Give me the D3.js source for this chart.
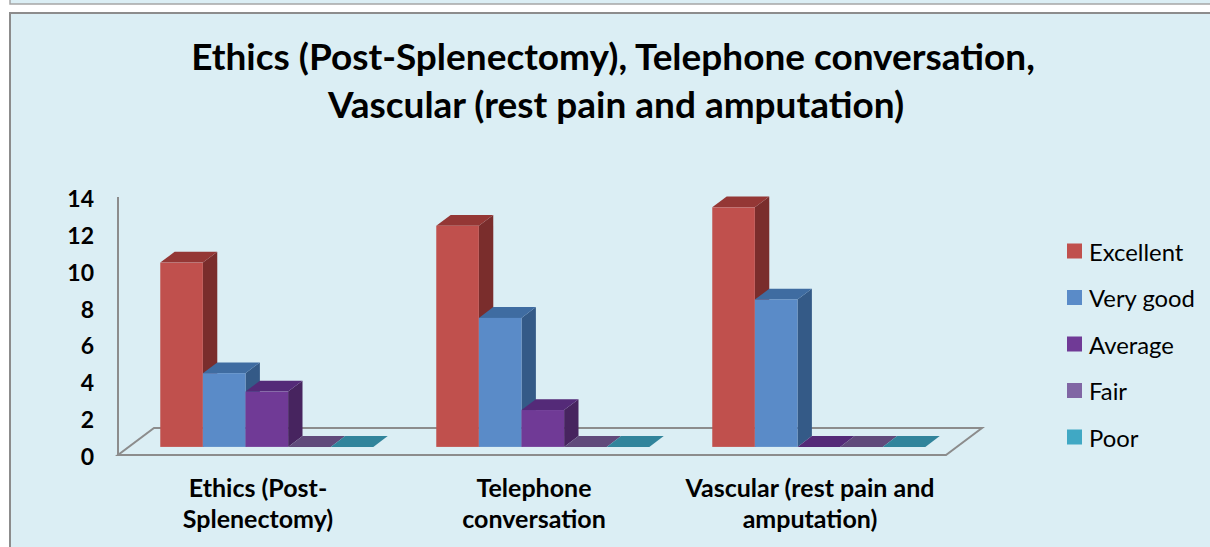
<!DOCTYPE html>
<html>
<head>
<meta charset="utf-8">
<script src="https://cdn.jsdelivr.net/npm/d3@7"></script>
<style>
  body { margin: 0; background: #fff; }
  svg { display: block; }
  text { font-family: Lato, "Open Sans", sans-serif; fill: #000; }
</style>
</head>
<body>
<div id="chart"></div>
<script>
var categories = ["Ethics (Post-Splenectomy)", "Telephone conversation", "Vascular (rest pain and amputation)"];
var categoryLines = [["Ethics (Post-", "Splenectomy)"], ["Telephone", "conversation"], ["Vascular (rest pain and", "amputation)"]];
var seriesNames = ["Excellent", "Very good", "Average", "Fair", "Poor"];
var excellent = [10, 12, 13];
var veryGood = [4, 7, 8];
var average = [3, 2, 0];
var fair = [0, 0, 0];
var poor = [0, 0, 0];
var yTicks = [0, 2, 4, 6, 8, 10, 12, 14];
var titleLines = ["Ethics (Post-Splenectomy), Telephone conversation,", "Vascular (rest pain and amputation)"];

var seriesValues = [excellent, veryGood, average, fair, poor];
// front, top, side shades
var colors = [
  { front: "#C0504D", top: "#943735", side: "#7A2D2C", legend: "#C0504D" },
  { front: "#5A8BC8", top: "#3F6CA1", side: "#345A87", legend: "#5A8BC8" },
  { front: "#703A96", top: "#542A78", side: "#47245F", legend: "#703A96" },
  { front: "#8064A2", top: "#604A7B", side: "#4F3D66", legend: "#8066A4" },
  { front: "#4BACC6", top: "#31849B", side: "#276A7D", legend: "#40A8C4" }
];

var W = 1210, H = 547;
var svg = d3.select("#chart").append("svg").attr("width", W).attr("height", H);

// previous chart edge and chart area box
svg.append("rect").attr("x", 10).attr("y", -60).attr("width", 1300).attr("height", 64)
  .attr("fill", "#DBEEF4").attr("stroke", "#a6a6a6").attr("stroke-width", 1.5);
svg.append("rect").attr("x", 10).attr("y", 13).attr("width", 1300).attr("height", 600)
  .attr("fill", "#DBEEF4").attr("stroke", "#8c8c8c").attr("stroke-width", 2);

function fit(sel, target) {
  var w = sel.node().getComputedTextLength();
  var s = parseFloat(sel.attr("font-size"));
  return s * target / w;
}

// title
var t1 = svg.append("text").attr("x", 613).attr("y", 70).attr("text-anchor", "middle")
  .attr("font-weight", "bold").attr("font-size", 36).text(titleLines[0]);
var tSize = fit(t1, 844);
t1.attr("font-size", tSize);
svg.append("text").attr("x", 616).attr("y", 118).attr("text-anchor", "middle")
  .attr("font-weight", "bold").attr("font-size", tSize).text(titleLines[1]);

// 3D geometry
var x0 = 118, x1 = 946, baseY = 455;
var depth = [36, -27];
var fShift = [depth[0] * 0.3, depth[1] * 0.3];
var bDepth = [depth[0] * 0.4, depth[1] * 0.4];

var x = d3.scaleBand().domain(categories).range([x0, x1]).paddingInner(0.228).paddingOuter(0.114);
var xs = d3.scaleBand().domain(seriesNames).range([0, x.bandwidth()]).padding(0);
var y = d3.scaleLinear().domain([0, 14]).range([baseY, 197]);

// floor
var floor = [[x0, baseY], [x1, baseY], [x1 + depth[0], baseY + depth[1]], [x0 + depth[0], baseY + depth[1]]];
svg.append("path").attr("d", "M" + floor.join("L") + "Z")
  .attr("fill", "none").attr("stroke", "#8c8c8c").attr("stroke-width", 2);

// y axis line
svg.append("line").attr("x1", x0).attr("x2", x0).attr("y1", y(0)).attr("y2", y(14))
  .attr("stroke", "#8c8c8c").attr("stroke-width", 2);

// tick labels
svg.selectAll(".ytick").data(yTicks).enter().append("text")
  .attr("class", "ytick")
  .attr("x", 94).attr("y", function (d) { return y(d) + 1; })
  .attr("text-anchor", "end").attr("dominant-baseline", "central")
  .attr("font-weight", "bold").attr("font-size", 23)
  .text(function (d) { return d; });

// bars
var bars = [];
categories.forEach(function (c, ci) {
  seriesNames.forEach(function (s, si) {
    bars.push({ cat: c, ser: s, si: si, v: seriesValues[si][ci] });
  });
});

var g = svg.append("g");
bars.forEach(function (d) {
  var bx = x(d.cat) + xs(d.ser) + fShift[0];
  var bw = xs.bandwidth();
  var by0 = y(0) + fShift[1];
  var by1 = y(d.v) + fShift[1];
  var c = colors[d.si];
  var dx = bDepth[0], dy = bDepth[1];
  if (d.v > 0) {
    g.append("path").attr("fill", c.side)
      .attr("d", "M" + [[bx + bw, by1], [bx + bw + dx, by1 + dy], [bx + bw + dx, by0 + dy], [bx + bw, by0]].join("L") + "Z");
  }
  g.append("path").attr("fill", c.top)
    .attr("d", "M" + [[bx, by1], [bx + dx, by1 + dy], [bx + bw + dx, by1 + dy], [bx + bw, by1]].join("L") + "Z");
  if (d.v > 0) {
    g.append("rect").attr("fill", c.front)
      .attr("x", bx).attr("y", by1).attr("width", bw).attr("height", by0 - by1);
  }
});

// category labels
var catLabels = svg.selectAll(".cat").data(categories).enter().append("text")
  .attr("class", "cat").attr("text-anchor", "middle")
  .attr("font-weight", "bold").attr("font-size", 22);
var probe = svg.append("text").attr("font-weight", "bold").attr("font-size", 22).text(categoryLines[2][0]);
var cSize = fit(probe, 249);
probe.remove();
catLabels.attr("font-size", cSize);
catLabels.each(function (d, i) {
  var t = d3.select(this);
  categoryLines[i].forEach(function (line, li) {
    t.append("tspan").attr("x", x0 + (x1 - x0) / 3 * (i + 0.5) + 2)
      .attr("y", 497 + li * 31).text(line);
  });
});

// legend
var lg = svg.append("g");
var probe2 = lg.append("text").attr("font-size", 22).text("Very good");
var lSize = fit(probe2, 106);
probe2.remove();
seriesNames.forEach(function (s, i) {
  var cy = 251 + i * 46.5;
  lg.append("rect").attr("x", 1067).attr("y", cy - 7.5).attr("width", 15).attr("height", 15)
    .attr("fill", colors[i].legend);
  lg.append("text").attr("x", 1089).attr("y", cy).attr("dominant-baseline", "central")
    .attr("font-size", lSize).text(s);
});
</script>
</body>
</html>
